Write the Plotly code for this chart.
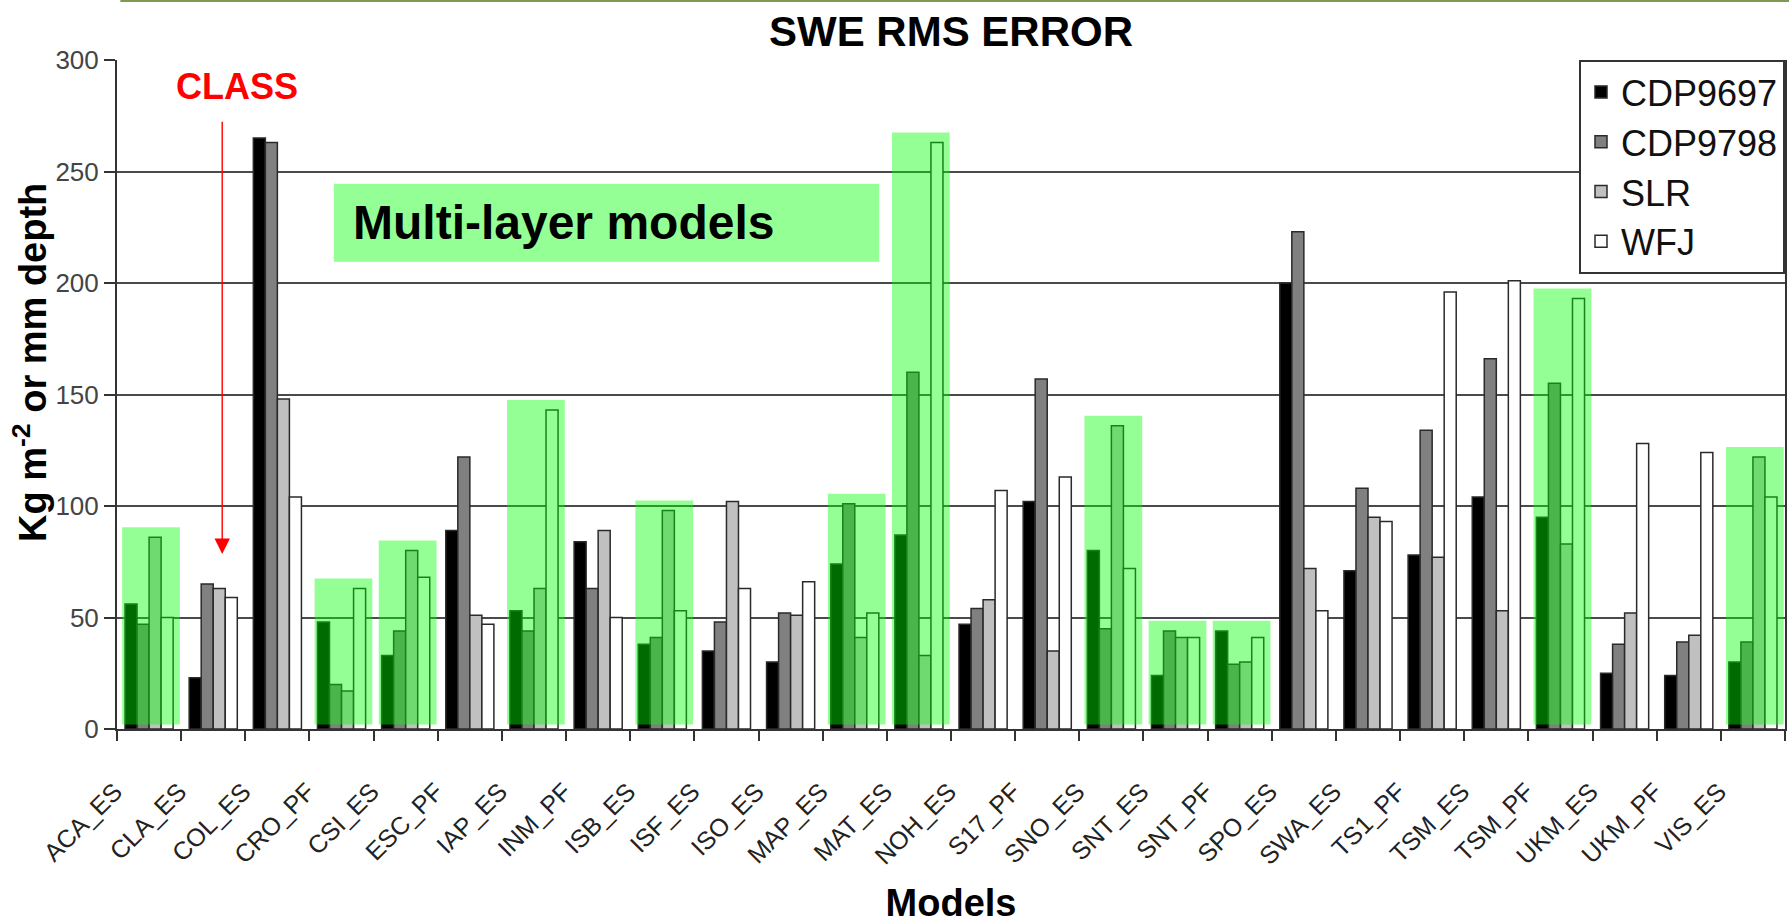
import plotly.graph_objects as go

# ---------------- data ----------------
models = ["ACA_ES", "CLA_ES", "COL_ES", "CRO_PF", "CSI_ES", "ESC_PF", "IAP_ES",
          "INM_PF", "ISB_ES", "ISF_ES", "ISO_ES", "MAP_ES", "MAT_ES", "NOH_ES",
          "S17_PF", "SNO_ES", "SNT_ES", "SNT_PF", "SPO_ES", "SWA_ES", "TS1_PF",
          "TSM_ES", "TSM_PF", "UKM_ES", "UKM_PF", "VIS_ES"]

cdp9697 = [56, 23, 265, 48, 33, 89, 53, 84, 38, 35, 30, 74, 87, 47,
           102, 80, 24, 44, 200, 71, 78, 104, 95, 25, 24, 30]
cdp9798 = [47, 65, 263, 20, 44, 122, 44, 63, 41, 48, 52, 101, 160, 54,
           157, 45, 44, 29, 223, 108, 134, 166, 155, 38, 39, 39]
slr = [86, 63, 148, 17, 80, 51, 63, 89, 98, 102, 51, 41, 33, 58,
       35, 136, 41, 30, 72, 95, 77, 53, 83, 52, 42, 122]
wfj = [50, 59, 104, 63, 68, 47, 143, 50, 53, 63, 66, 52, 263, 107,
       113, 72, 41, 41, 53, 93, 196, 201, 193, 128, 124, 104]

multi_layer = ["ACA_ES", "CRO_PF", "CSI_ES", "IAP_ES", "ISB_ES", "MAP_ES",
               "MAT_ES", "SNO_ES", "SNT_ES", "SNT_PF", "TSM_PF", "VIS_ES"]

series_names = ["CDP9697", "CDP9798", "SLR", "WFJ"]
series_vals = [cdp9697, cdp9798, slr, wfj]
series_colors = ["#000000", "#808080", "#c0c0c0", "#ffffff"]

y_ticks = [0, 50, 100, 150, 200, 250, 300]

# ---------------- figure ----------------
W, H = 1789, 924
ML, MR, MT, MB = 117, 4, 60, 195
FONT = "Liberation Sans, Arial, sans-serif"

fig = go.Figure()
for name, vals, col in zip(series_names, series_vals, series_colors):
    fig.add_trace(go.Bar(
        x=models, y=vals, name=name,
        marker=dict(color=col, line=dict(color="#2a2a2a", width=1.5)),
        legendgroup=name,
    ))

# green highlight over multi-layer model groups
shapes = []
for m in multi_layer:
    i = models.index(m)
    top = max(cdp9697[i], cdp9798[i], slr[i], wfj[i]) + 4.5
    shapes.append(dict(type="rect", xref="x", yref="y",
                       x0=i - 0.42, x1=i + 0.48, y0=2, y1=top,
                       fillcolor="rgba(0,255,0,0.42)", line=dict(width=0),
                       layer="above"))

# "Multi-layer models" label box
shapes.append(dict(type="rect", xref="x", yref="y",
                   x0=2.88, x1=11.38, y0=209.5, y1=244.5,
                   fillcolor="rgba(0,255,0,0.42)", line=dict(width=0),
                   layer="above"))

# olive line at the very top of the slide
plot_h = H - MT - MB
shapes.append(dict(type="line", xref="paper", yref="paper",
                   x0=0.002, x1=1.01, y0=1 + (MT - 1) / plot_h, y1=1 + (MT - 1) / plot_h,
                   line=dict(color="#7f9a55", width=2)))

annotations = [
    dict(text="Multi-layer models", xref="x", yref="y", x=6.46, y=227,
         showarrow=False, font=dict(family=FONT, size=48, color="#000", weight="bold")),
    dict(text="CLASS", xref="x", yref="y", x=1.37, y=288,
         showarrow=False, font=dict(family=FONT, size=36, color="#ff0000", weight="bold")),
    dict(text="", xref="x", yref="y", x=1.14, y=78.5, axref="x", ayref="y",
         ax=1.14, ay=273, showarrow=True, arrowhead=2, arrowsize=2.2,
         arrowwidth=1.4, arrowcolor="#ff0000", standoff=0),
    dict(text="Kg m<sup>-2</sup> or mm depth", xref="paper", yref="paper",
         x=-(ML - 30) / (W - ML - MR), y=(729 - 363) / plot_h,
         textangle=-90, showarrow=False, xanchor="center", yanchor="middle",
         font=dict(family=FONT, size=38, color="#000", weight="bold")),
]

fig.update_layout(
    width=W, height=H,
    margin=dict(l=ML, r=MR, t=MT, b=MB, autoexpand=False),
    paper_bgcolor="white", plot_bgcolor="white",
    font=dict(family=FONT, color="#222"),
    title=dict(text="SWE RMS ERROR", x=(ML + (W - ML - MR) / 2) / W, xanchor="center",
               y=1 - 31 / H, yanchor="middle", yref="container",
               font=dict(family=FONT, size=42, color="#000", weight="bold")),
    barmode="group", bargap=0.25, bargroupgap=0,
    showlegend=True,
    legend=dict(x=1.0, xanchor="right", y=1.0, yanchor="top",
                bgcolor="white", bordercolor="#333", borderwidth=2,
                font=dict(family=FONT, size=36, color="#111"),
                traceorder="normal", tracegroupgap=2),
    shapes=shapes, annotations=annotations,
    xaxis=dict(
        type="category", categoryorder="array", categoryarray=models,
        automargin=False,
        tickangle=-45, tickfont=dict(family=FONT, size=25, color="#222"),
        ticks="outside", tickson="boundaries", ticklen=10, tickwidth=2, tickcolor="#333",
        showline=True, linecolor="#333", linewidth=2, mirror=False,
        showgrid=False, ticklabelshift=-34, ticklabelstandoff=36,
        title=dict(text="Models", standoff=28,
                   font=dict(family=FONT, size=38, color="#000", weight="bold")),
    ),
    yaxis=dict(
        range=[0, 300], tickvals=y_ticks, ticks="outside", ticklen=11, tickwidth=2,
        automargin=False,
        tickcolor="#333", tickfont=dict(family=FONT, size=26, color="#444"),
        showline=True, linecolor="#333", linewidth=2, mirror=True,
        showgrid=True, gridcolor="#4a4a4a", gridwidth=2, zeroline=False,
    ),
)

fig.write_html("out.html")
